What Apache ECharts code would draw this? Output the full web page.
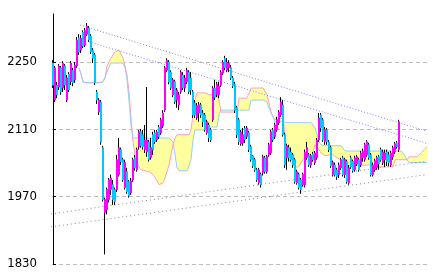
<!DOCTYPE html>
<html><head><meta charset="utf-8">
<script src="https://cdn.jsdelivr.net/npm/echarts@6/dist/echarts.min.js"></script>
<style>html,body{margin:0;padding:0;background:#fff}#c{width:433px;height:278px}</style>
</head><body><div id="c"></div>
<script>
// ---- tick labels ----
const yTicks = [1830, 1970, 2110, 2250];

// ---- candles (one per slot, 174 sessions) ----
const candleOpen = [
2248,2171,2202,2198,2238,2196,2242,2171,2225,2209,
2233,2213,2242,2300,2275,2312,2285,2308,2321,2304,
2275,2265,2188,2146,2167,2072,1937,1943,1964,1985,
1995,1985,1985,2016,2068,2047,1989,2022,2001,1978,
2005,2051,2026,2074,2105,2099,2068,2063,2084,2051,
2099,2103,2088,2115,2103,2117,2150,2233,2250,2229,
2182,2209,2171,2161,2188,2223,2196,2209,2229,2217,
2188,2165,2134,2144,2161,2144,2140,2103,2119,2109,
2130,2196,2182,2182,2202,2227,2258,2233,2238,2238,
2217,2204,2155,2130,2080,2082,2113,2095,2103,2074,
2055,2047,2026,1999,2016,2020,2051,2022,2057,2061,
2109,2095,2109,2124,2140,2161,2099,2051,2072,2063,
2057,2047,1999,2016,2005,1995,1995,2051,2057,2036,
2059,2041,2051,2088,2140,2130,2084,2109,2084,2072,
2016,2036,2026,2016,2030,2051,2016,2043,1999,2051,
2043,2026,2038,2047,2036,2051,2047,2057,2078,2057,
2016,2026,2030,2053,2068,2041,2047,2063,2057,2036,
2053,2063,2082,2068];
const candleClose = [
2202,2238,2182,2242,2188,2248,2202,2217,2192,2248,
2207,2244,2296,2271,2300,2283,2316,2325,2296,2271,
2258,2207,2171,2171,2084,1964,1964,1985,2005,2009,
1964,1960,2047,2072,2043,2005,2041,1980,1972,2003,
2047,2030,2068,2105,2076,2074,2088,2088,2047,2072,
2068,2084,2105,2095,2130,2144,2238,2254,2209,2196,
2213,2167,2192,2182,2229,2196,2217,2233,2188,2192,
2140,2140,2159,2161,2140,2126,2109,2126,2092,2088,
2196,2177,2204,2200,2229,2250,2238,2250,2248,2217,
2200,2150,2099,2084,2105,2099,2088,2113,2068,2047,
2034,2026,2005,2026,1995,2053,2022,2053,2078,2105,
2088,2119,2130,2146,2167,2099,2036,2076,2051,2047,
2036,2001,2022,1989,1985,2016,2063,2072,2036,2055,
2047,2061,2088,2134,2113,2088,2109,2084,2068,2034,
2041,2016,2012,2036,2047,2016,2047,2001,2030,2032,
2024,2051,2053,2026,2061,2065,2078,2084,2051,2016,
2036,2045,2051,2038,2047,2063,2061,2043,2041,2061,
2072,2080,2074,2126];
const candleLow = [
2196,2167,2175,2192,2182,2188,2192,2167,2188,2202,
2200,2207,2238,2265,2269,2279,2281,2304,2292,2267,
2248,2202,2163,2140,2078,1960,1850,1933,1958,1974,
1953,1953,1980,2012,2036,2001,1985,1976,1968,1974,
2001,2024,2022,2068,2072,2068,2061,2053,2043,2047,
2057,2080,2084,2090,2099,2113,2146,2229,2204,2192,
2177,2163,2155,2150,2184,2192,2188,2204,2184,2182,
2134,2134,2130,2126,2134,2115,2105,2099,2084,2084,
2126,2171,2177,2175,2198,2223,2233,2229,2229,2213,
2196,2144,2092,2078,2076,2076,2082,2090,2063,2043,
2030,2022,2001,1995,1989,2014,2018,2018,2053,2057,
2084,2090,2105,2119,2136,2095,2030,2026,2043,2043,
2030,1997,1995,1985,1976,1991,1989,2047,2032,2030,
2043,2036,2047,2084,2105,2084,2078,2078,2063,2030,
2012,2012,2005,2009,2026,2012,2009,1997,1995,2028,
2020,2022,2034,2022,2032,2043,2043,2053,2047,2012,
2012,2022,2026,2026,2043,2036,2032,2034,2034,2032,
2047,2059,2070,2063];
const candleHigh = [
2254,2242,2209,2246,2242,2252,2246,2223,2229,2252,
2238,2250,2302,2308,2306,2316,2321,2331,2325,2308,
2279,2269,2192,2175,2171,2076,1968,1989,2009,2016,
2005,1989,2057,2092,2072,2051,2047,2030,2005,2009,
2051,2057,2072,2109,2111,2109,2119,2198,2088,2092,
2105,2109,2109,2119,2134,2150,2242,2258,2254,2233,
2217,2213,2196,2188,2233,2229,2223,2238,2233,2229,
2192,2171,2165,2167,2165,2150,2144,2130,2124,2113,
2200,2213,2209,2209,2233,2254,2263,2258,2254,2244,
2221,2209,2159,2134,2109,2113,2117,2117,2107,2078,
2057,2051,2030,2030,2020,2057,2055,2057,2082,2109,
2113,2124,2136,2150,2177,2171,2103,2080,2078,2072,
2061,2051,2026,2020,2009,2020,2068,2084,2061,2059,
2063,2065,2092,2144,2144,2134,2115,2113,2088,2076,
2045,2041,2030,2041,2051,2055,2051,2047,2036,2055,
2047,2055,2057,2051,2065,2070,2082,2088,2082,2061,
2041,2049,2055,2057,2072,2068,2068,2068,2063,2065,
2076,2084,2086,2130];

// ---- ichimoku cloud (starts at slot 13, runs to the last slot) ----
const slotCount = 188;
const cloudStart = 13;
const spanA = [
2238,2225,2209,
2207,2207,2206,2207,2207,2207,2208,2207,2207,2209,
2217,2242,2250,2258,2265,2271,2275,2275,2271,2258,
2242,2223,2188,2134,2084,2057,2041,2032,2026,2026,
2024,2022,2022,2020,2016,2012,2003,1995,1993,1999,
2009,2022,2036,2057,2078,2092,2099,2099,2099,2099,
2099,2099,2099,2109,2140,2171,2186,2186,2186,2186,
2186,2186,2182,2182,2182,2182,2182,2171,2146,2146,
2146,2146,2146,2146,2146,2146,2146,2175,2175,2175,
2175,2175,2175,2196,2196,2196,2196,2196,2196,2196,
2196,2182,2165,2146,2136,2130,2134,2136,2136,2130,
2099,2063,2047,2041,2036,2030,2030,2034,2038,2047,
2053,2047,2036,2047,2063,2078,2078,2068,2061,2057,
2055,2057,2057,2057,2057,2057,2051,2047,2047,2043,
2038,2036,2034,2036,2036,2038,2036,2034,2034,2036,
2036,2038,2036,2036,2034,2032,2032,2032,2032,2032,
2032,2032,2032,2032,2032,2047,2047,2047,2047,2047,
2047,2047,2053,2053,2053,2053,2053,2053,2061,2065,
2070,2074];
const spanB = [
2238,2225,2209,
2207,2207,2206,2207,2207,2207,2208,2207,2207,2209,
2213,2229,2240,2248,2248,2248,2248,2248,2248,2248,
2238,2213,2171,2119,2092,2092,2092,2092,2092,2092,
2092,2092,2092,2092,2092,2092,2092,2092,2092,2092,
2092,2092,2092,2092,2084,2057,2030,2024,2024,2024,
2024,2024,2024,2047,2088,2109,2109,2109,2109,2109,
2109,2109,2115,2115,2115,2115,2115,2140,2150,2150,
2150,2150,2150,2150,2150,2150,2150,2150,2150,2150,
2150,2150,2150,2171,2171,2171,2171,2171,2171,2171,
2171,2167,2155,2144,2136,2126,2126,2126,2126,2126,
2124,2124,2124,2124,2124,2124,2124,2124,2124,2124,
2124,2124,2124,2124,2124,2113,2099,2084,2078,2076,
2076,2076,2076,2076,2076,2076,2076,2076,2076,2076,
2065,2065,2065,2065,2065,2065,2065,2065,2065,2065,
2065,2065,2065,2065,2065,2065,2065,2065,2065,2065,
2065,2065,2065,2065,2065,2065,2065,2065,2065,2065,
2055,2047,2041,2041,2041,2041,2041,2041,2041,2041,
2041,2041];

// ---- trend lines: [slot, value] endpoints ----
const resistUpper = [[13.5, 2327], [187, 2106]];
const resistLower = [[18, 2292], [187, 2081]];
const supportUpper = [[-3, 1933], [187, 2044]];
const supportLower = [[-3, 1906], [187, 2016]];

// ---- build library data ----
const cats = Array.from({length: slotCount}, (_, i) => i);
// wick layer: zero-height body in the middle of the candle, whiskers to low/high
const wickData = candleOpen.map((o, i) => {
  const c = candleClose[i], m = (o + c) / 2;
  return [m, m, Math.min(candleLow[i], o, c), Math.max(candleHigh[i], o, c)];
});
const bodyData = candleOpen.map((o, i) => {
  const c = candleClose[i];
  return [o, c, Math.min(o, c), Math.max(o, c)];
});
const lineA = Array(slotCount).fill(null);
const lineB = Array(slotCount).fill(null);
const cloudData = [];
spanA.forEach((a, k) => {
  const i = cloudStart + k;
  lineA[i] = a; lineB[i] = spanB[k];
  if (k < spanA.length - 1) cloudData.push([i, a, spanB[k], spanA[k + 1], spanB[k + 1]]);
});

const chart = echarts.init(document.getElementById('c'), null, {renderer: 'canvas'});
const dotted = (color, dash) => ({color, width: 1, type: dash});
chart.setOption({
  animation: false,
  backgroundColor: '#fff',
  grid: {left: 52, right: 5, top: 14, bottom: 14},
  xAxis: [
    {type: 'category', data: cats, boundaryGap: true, show: false},
    {type: 'value', min: -0.5, max: slotCount - 0.5, show: false}
  ],
  yAxis: {
    type: 'value', min: 1830, max: 2350, interval: 140,
    axisLine: {show: true, lineStyle: {color: '#000', width: 1}},
    axisTick: {show: true, inside: true, length: 3, lineStyle: {color: '#000'}, customValues: yTicks},
    axisLabel: {customValues: yTicks, color: '#000', fontSize: 13, margin: 15,
      formatter: v => String(v),
      fontFamily: "'Liberation Sans Narrow', 'DejaVu Sans Condensed', 'DejaVu Sans Mono', sans-serif"},
    splitLine: {show: true, lineStyle: {color: '#bdbdbd', width: 1, type: [4, 3]}}
  },
  series: [
    {type: 'custom', xAxisIndex: 1, yAxisIndex: 0, data: cloudData, silent: true, z: 1,
     renderItem: (params, api) => {
       const i = api.value(0);
       const pts = [
         api.coord([i, api.value(1)]), api.coord([i + 1, api.value(3)]),
         api.coord([i + 1, api.value(4)]), api.coord([i, api.value(2)])
       ];
       return {type: 'polygon', shape: {points: pts},
               style: {fill: '#ffffa0', stroke: '#ffffa0', lineWidth: 0.5}};
     }},
    {type: 'line', data: lineA, symbol: 'none', silent: true, z: 2,
     lineStyle: {color: '#ff9fcf', width: 1}},
    {type: 'line', data: lineB, symbol: 'none', silent: true, z: 2,
     lineStyle: {color: '#99ccff', width: 1}},
    {type: 'line', xAxisIndex: 1, data: resistUpper, symbol: 'none', silent: true, z: 3,
     lineStyle: dotted('#7f7ff2', [1, 2])},
    {type: 'line', xAxisIndex: 1, data: resistLower, symbol: 'none', silent: true, z: 3,
     lineStyle: dotted('#7f7ff2', [1, 2])},
    {type: 'line', xAxisIndex: 1, data: supportUpper, symbol: 'none', silent: true, z: 3, clip: false,
     lineStyle: dotted('#8a8a8a', [1, 3])},
    {type: 'line', xAxisIndex: 1, data: supportLower, symbol: 'none', silent: true, z: 3, clip: false,
     lineStyle: dotted('#8a8a8a', [1, 3])},
    {type: 'candlestick', data: wickData, barWidth: 1, silent: true, z: 4,
     itemStyle: {color: '#000', color0: '#000', borderColor: '#000', borderColor0: '#000', borderWidth: 1}},
    {type: 'candlestick', data: bodyData, barWidth: 2, silent: true, z: 5,
     itemStyle: {color: '#ff00ff', color0: '#00c8ff', borderColor: '#ff00ff', borderColor0: '#00c8ff', borderWidth: 1}}
  ]
});
</script></body></html>
